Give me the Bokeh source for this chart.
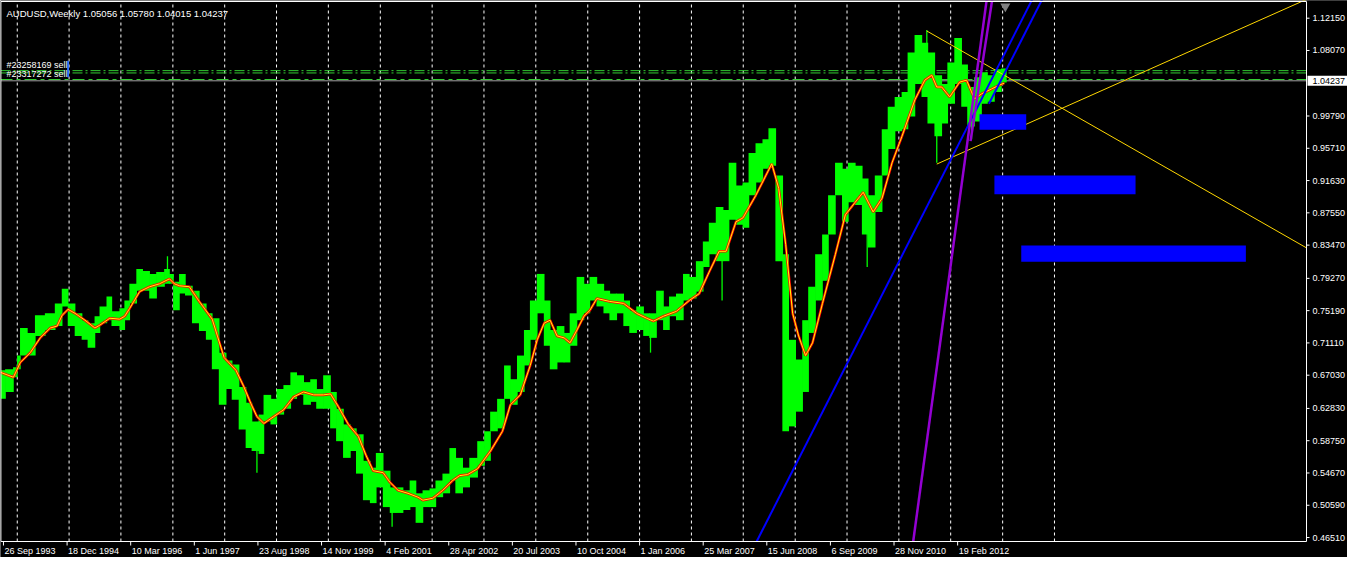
import pandas as pd
from bokeh.plotting import figure
from bokeh.models import Range1d
from bokeh.core.properties import value
from bokeh.embed import file_html
from bokeh.resources import INLINE

START = pd.Timestamp("1993-09-05")   # week 0 of the chart


def weeks(ts):
    return (ts - START).days / 7.0


# ---------------- data (weekly AUDUSD, grouped ranges) ----------------
bar_week = [0, 5, 13, 17, 20, 27, 35, 45, 55, 62,
            68, 75, 82, 88, 95, 100, 107, 112, 120, 125,
            130, 137, 143, 150, 157, 165, 170, 174, 180, 186,
            193, 200, 207, 213, 220, 227, 233, 240, 247, 253,
            260, 265, 272, 278, 285, 292, 298, 305, 312, 318,
            325, 332, 338, 345, 352, 358, 365, 372, 378, 385,
            392, 398, 405, 412, 418, 425, 432, 438, 445, 452,
            458, 465, 472, 480, 487, 493, 500, 507, 513, 520,
            527, 533, 540, 547, 553, 560, 567, 573, 580, 587,
            593, 600, 607, 613, 620, 627, 633, 640, 647, 653,
            660, 667, 673, 680, 687, 693, 700, 707, 713, 720,
            727, 733, 740, 747, 753, 760, 767, 773, 780, 787,
            793, 800, 807, 813, 820, 827, 833, 840, 847, 853,
            860, 867, 873, 880, 887, 893, 900, 907, 913, 920,
            927, 933, 940, 947, 953, 960, 967, 973, 980, 987,
            993, 1000, 1007]
last_week = 1012

bar_high = [0.6764, 0.6777, 0.6802, 0.6951, 0.7299, 0.7237, 0.7460, 0.7485, 0.7610, 0.7796,
            0.7610, 0.7485, 0.7398, 0.7361, 0.7448, 0.7572, 0.7697, 0.7510, 0.7548, 0.7647,
            0.7858, 0.8045, 0.8020, 0.7983, 0.8007, 0.8045, 0.7983, 0.7883, 0.7983, 0.7833,
            0.7771, 0.7610, 0.7485, 0.7423, 0.6988, 0.6889, 0.6839, 0.6553, 0.6354, 0.6118,
            0.6205, 0.6454, 0.6404, 0.6528, 0.6578, 0.6739, 0.6702, 0.6615, 0.6652, 0.6528,
            0.6702, 0.6491, 0.6279, 0.6081, 0.6031, 0.5956, 0.5621, 0.5534, 0.5720, 0.5496,
            0.5285, 0.5285, 0.5248, 0.5372, 0.5210, 0.5248, 0.5272, 0.5372, 0.5459, 0.5782,
            0.5658, 0.5534, 0.5658, 0.5869, 0.5994, 0.6242, 0.6404, 0.6826, 0.6652, 0.6951,
            0.7274, 0.7647, 0.7983, 0.7647, 0.7274, 0.7324, 0.7237, 0.7485, 0.7945, 0.7858,
            0.7945, 0.7858, 0.7771, 0.7734, 0.7734, 0.7647, 0.7523, 0.7572, 0.7485, 0.7485,
            0.7771, 0.7572, 0.7697, 0.7734, 0.7983, 0.7945, 0.8144, 0.8393, 0.8629, 0.8828,
            0.8791, 0.9387, 0.9102, 0.9139, 0.9512, 0.9636, 0.9686, 0.9823, 0.9226, 0.8231,
            0.7150, 0.6901, 0.7398, 0.7821, 0.8231, 0.8480, 0.8977, 0.9387, 0.9313, 0.9387,
            0.9350, 0.9189, 0.8977, 0.9226, 0.9810, 1.0096, 1.0220, 1.0283, 1.0780, 1.1004,
            1.0904, 1.0780, 1.0494, 1.0382, 1.0656, 1.0966, 1.0631, 1.0345, 1.0469, 1.0531,
            1.0494, 1.0569, 1.0578]

bar_low = [0.6404, 0.6491, 0.6677, 0.6777, 0.6951, 0.6951, 0.7199, 0.7274, 0.7324, 0.7572,
           0.7324, 0.7199, 0.7150, 0.7050, 0.7237, 0.7361, 0.7398, 0.7324, 0.7274, 0.7398,
           0.7610, 0.7771, 0.7771, 0.7672, 0.7821, 0.7858, 0.7858, 0.7523, 0.7734, 0.7709,
           0.7361, 0.7262, 0.7150, 0.6777, 0.6329, 0.6528, 0.6391, 0.6018, 0.5782, 0.5745,
           0.5708, 0.6118, 0.6081, 0.6205, 0.6279, 0.6404, 0.6454, 0.6329, 0.6366, 0.6279,
           0.6279, 0.6031, 0.5869, 0.5658, 0.5745, 0.5459, 0.5123, 0.5086, 0.5285, 0.5036,
           0.4962, 0.4962, 0.4999, 0.5036, 0.4837, 0.5036, 0.5036, 0.5161, 0.5210, 0.5372,
           0.5210, 0.5285, 0.5409, 0.5558, 0.5621, 0.5994, 0.6031, 0.6404, 0.6329, 0.6491,
           0.6826, 0.7150, 0.7485, 0.7075, 0.6777, 0.6864, 0.6864, 0.7075, 0.7398, 0.7485,
           0.7647, 0.7572, 0.7485, 0.7398, 0.7485, 0.7324, 0.7237, 0.7274, 0.7199, 0.7175,
           0.7398, 0.7274, 0.7448, 0.7398, 0.7647, 0.7672, 0.7759, 0.8070, 0.8231, 0.8144,
           0.8144, 0.8666, 0.8604, 0.8567, 0.8977, 0.9139, 0.9313, 0.9350, 0.8144, 0.5994,
           0.6056, 0.6242, 0.6491, 0.7237, 0.7647, 0.7896, 0.8480, 0.8977, 0.8642, 0.8890,
           0.8853, 0.8480, 0.8318, 0.8766, 0.9226, 0.9562, 0.9785, 0.9810, 0.9972, 1.0382,
           1.0220, 0.9885, 0.9723, 0.9885, 1.0133, 1.0382, 1.0096, 0.9847, 0.9910, 1.0133,
           1.0158, 1.0283, 1.0402]

# single-week extremes
spike_week = [168, 258, 394, 654, 726, 872, 932, 942, 977]
spike_high = [0.8206, 0.5782, 0.5036, 0.7274, 0.8393, 0.8853, 1.1066, 0.9885, 1.0096]
spike_low = [0.7983, 0.5471, 0.4788, 0.6988, 0.7647, 0.8070, 1.0656, 0.9387, 0.9686]

# moving average
ma_week = [0, 13, 20, 30, 40, 50, 57, 62, 68, 75, 85, 95, 100, 110, 120, 125, 130, 140, 150, 160,
           170, 175, 180, 190, 200, 213, 225, 237, 245, 252, 258, 265, 275, 285, 295, 305, 315, 325,
           332, 340, 350, 360, 368, 375, 385, 392, 400, 410, 420, 425, 435, 445, 455, 462, 470, 480,
           493, 505, 513, 523, 533, 540, 547, 553, 560, 567, 573, 580, 587, 593, 600, 613, 627, 640,
           650, 657, 667, 680, 693, 703, 713, 723, 730, 740, 747, 760, 776, 783, 790, 797, 803, 810,
           817, 827, 840, 850, 860, 868, 878, 887, 897, 907, 920, 930, 937, 942, 947, 955, 965, 972,
           977, 980, 987, 997, 1005, 1010]
ma_price = [0.6739, 0.6677, 0.6864, 0.6988, 0.7175, 0.7299, 0.7324, 0.7460, 0.7535, 0.7485,
            0.7398, 0.7299, 0.7336, 0.7423, 0.7411, 0.7448, 0.7548, 0.7759, 0.7821, 0.7858,
            0.7921, 0.7858, 0.7833, 0.7821, 0.7635, 0.7411, 0.6926, 0.6764, 0.6553, 0.6342,
            0.6180, 0.6093, 0.6180, 0.6267, 0.6429, 0.6491, 0.6454, 0.6454, 0.6466, 0.6304,
            0.6081, 0.5931, 0.5683, 0.5496, 0.5471, 0.5347, 0.5248, 0.5210, 0.5161, 0.5123,
            0.5148, 0.5248, 0.5372, 0.5434, 0.5447, 0.5521, 0.5745, 0.5994, 0.6329, 0.6454,
            0.6826, 0.7150, 0.7361, 0.7398, 0.7199, 0.7175, 0.7112, 0.7274, 0.7448, 0.7523,
            0.7672, 0.7635, 0.7610, 0.7485, 0.7423, 0.7386, 0.7448, 0.7510, 0.7647, 0.7734,
            0.8007, 0.8269, 0.8269, 0.8642, 0.8691, 0.8977, 0.9375, 0.9064, 0.8356, 0.7485,
            0.7199, 0.6951, 0.7112, 0.7610, 0.8231, 0.8729, 0.8890, 0.9015, 0.8766, 0.8940,
            0.9387, 0.9723, 1.0183, 1.0432, 1.0494, 1.0345, 1.0345, 1.0220, 1.0407, 1.0432,
            1.0283, 1.0196, 1.0258, 1.0320, 1.0370, 1.0394]

tick_dates = ["26 Sep 1993", "18 Dec 1994", "10 Mar 1996", "1 Jun 1997", "23 Aug 1998",
              "14 Nov 1999", "4 Feb 2001", "28 Apr 2002", "20 Jul 2003", "10 Oct 2004",
              "1 Jan 2006", "25 Mar 2007", "15 Jun 2008", "6 Sep 2009", "28 Nov 2010",
              "19 Feb 2012"]
grid_years = list(range(1994, 2015))

price_ticks = [1.12150, 1.08070, 0.99790, 0.95710, 0.91630, 0.87550, 0.83470, 0.79270,
               0.75190, 0.71110, 0.67030, 0.62830, 0.58750, 0.54670, 0.50590, 0.46510]
price_labels = ["1.12150", "1.08070", "0.99790", "0.95710", "0.91630", "0.87550", "0.83470",
                "0.79270", "0.75190", "0.71110", "0.67030", "0.62830", "0.58750", "0.54670",
                "0.50590", "0.46510"]

header = "AUDUSD,Weekly  1.05056 1.05780 1.04015 1.04237"
last_close = 1.04237
last_close_label = "1.04237"
order_prices = [1.0552, 1.0523, 1.0440]
order_styles = ["10 3 2 3", "10 3 2 3", "12 4 4 4"]
order_text = ["#23258169 sell", "#23317272 sell"]
order_text_price = [1.0552, 1.0440]

# analysis objects: trend lines (week, price pairs) and zones
yellow1_w, yellow1_p = [932, 1314], [1.1053, 0.8312]
yellow2_w, yellow2_p = [942, 1314], [0.9371, 1.1453]
blue1_w, blue1_p = [760.8, 1042], [0.4601, 1.1550]
blue2_w, blue2_p = [994.5, 1050], [1.0133, 1.1500]
purple1_w, purple1_p = [918.3, 995], [0.4601, 1.1704]
purple2_w, purple2_p = [976, 1000], [0.9661, 1.1631]
zone_left = [985, 1000, 1027]
zone_right = [1032, 1142, 1253]
zone_top = [1.0000, 0.9226, 0.8343]
zone_bottom = [0.9806, 0.8990, 0.8136]
shift_week = [1011]
cursor_w, cursor_p = [67, 69], [1.0677, 1.0469]

# chart window (weeks / prices)
X_END = 1314          # last week visible in the chart area
Y0, Y1 = 0.4601, 1.1426

# ---------------- layout helpers ----------------
W, H = 1347, 557
FRAME_PX_W = 1306     # chart area width in px
FRAME_TOP, FRAME_BOT = 1, 541
WPX = X_END / FRAME_PX_W
PPX = (Y1 - Y0) / (FRAME_BOT - FRAME_TOP)

ends = bar_week[1:] + [last_week]
bar_x = [(a + b) / 2 for a, b in zip(bar_week, ends)]
bar_w = [(b - a) + 0.7 for a, b in zip(bar_week, ends)]
tick_weeks = [weeks(pd.to_datetime(d, format="%d %b %Y")) for d in tick_dates]
grid_weeks = [weeks(pd.Timestamp(f"{y}-01-01")) for y in grid_years]

FONT = value("Liberation Sans")

p = figure(width=W, height=H,
           x_range=Range1d(0, W * WPX),
           y_range=Range1d(Y0 - (H - FRAME_BOT) * PPX, Y1 + FRAME_TOP * PPX),
           x_axis_type=None, y_axis_type=None, toolbar_location=None,
           output_backend="svg", background_fill_color="black", border_fill_color="black",
           min_border=0)
p.xgrid.visible = False
p.ygrid.visible = False
p.outline_line_color = None

# yearly dashed grid
p.segment(x0=grid_weeks, x1=grid_weeks, y0=[Y0] * len(grid_weeks), y1=[Y1] * len(grid_weeks),
          line_color="white", line_dash="3 3", line_width=1)

# order lines and current price line
for pr, dash in zip(order_prices, order_styles):
    p.segment(x0=[0], x1=[X_END], y0=[pr], y1=[pr], line_color="#32CD32",
              line_dash=dash, line_width=1)
p.segment(x0=[0], x1=[X_END], y0=[last_close], y1=[last_close], line_color="#A0A0A0",
          line_width=1)

# price bars
p.vbar(x=bar_x, width=bar_w, top=bar_high, bottom=bar_low,
       fill_color="#00FF00", line_color=None)
p.vbar(x=spike_week, width=1.3, top=spike_high, bottom=spike_low,
       fill_color="#00FF00", line_color=None)

# moving average (red with yellow)
p.line(ma_week, ma_price, line_color="#FF0000", line_width=2.5)
p.line(ma_week, ma_price, line_color="#FFFF00", line_width=1)

# trend lines
p.line(yellow1_w, yellow1_p, line_color="#FFD700", line_width=1)
p.line(yellow2_w, yellow2_p, line_color="#FFD700", line_width=1)
p.line(blue1_w, blue1_p, line_color="#0000FF", line_width=2)
p.line(blue2_w, blue2_p, line_color="#0000FF", line_width=2)
p.line(purple1_w, purple1_p, line_color="#9400D3", line_width=2.5)
p.line(purple2_w, purple2_p, line_color="#9400D3", line_width=2.5)

# zones
p.quad(left=zone_left, right=zone_right, top=zone_top, bottom=zone_bottom,
       fill_color="#0000FF", line_color=None)

# black background for the scales (covers overshoot of lines)
p.quad(left=[X_END], right=[W * WPX], top=[Y1 + 2 * PPX], bottom=[Y0 - (H - FRAME_BOT) * PPX],
       fill_color="black", line_color=None)
p.quad(left=[0], right=[W * WPX], top=[Y0], bottom=[Y0 - (H - FRAME_BOT) * PPX],
       fill_color="black", line_color=None)

# chart-shift marker
p.scatter(shift_week, [Y1 - 5 * PPX], marker="inverted_triangle", size=10,
          fill_color="#808080", line_color=None)

# order labels + cursor
p.text(x=[2 + 4 * WPX] * 2, y=[v + 1 * PPX for v in order_text_price], text=order_text,
       text_color="white", text_font=FONT, text_font_size="9px", text_baseline="bottom",
       text_align="left")
p.quad(left=[cursor_w[0]], right=[cursor_w[1]], top=[cursor_p[0]], bottom=[cursor_p[1]],
       fill_color="#3070FF", line_color=None)

# header
p.text(x=[6 * WPX], y=[Y1 - 6 * PPX], text=[header], text_color="white", text_font=FONT,
       text_font_size="9.5px", text_baseline="top", text_align="left")

# chart frame
p.line([0.4 * WPX, 0.4 * WPX, X_END, X_END, 0.4 * WPX], [Y0, Y1, Y1, Y0, Y0],
       line_color="white", line_width=1)

# price scale: ticks, labels, current price box
p.segment(x0=[X_END] * len(price_ticks), x1=[X_END + 3 * WPX] * len(price_ticks),
          y0=price_ticks, y1=price_ticks, line_color="white", line_width=1)
p.text(x=[X_END + 6 * WPX] * len(price_ticks), y=price_ticks, text=price_labels,
       text_color="white", text_font=FONT, text_font_size="9px", text_baseline="middle",
       text_align="left")
p.quad(left=[X_END + 1 * WPX], right=[X_END + 44 * WPX], top=[last_close + 5 * PPX],
       bottom=[last_close - 5 * PPX], fill_color="white", line_color=None)
p.text(x=[X_END + 6 * WPX], y=[last_close], text=[last_close_label], text_color="black",
       text_font=FONT, text_font_size="9px", text_baseline="middle", text_align="left")

# time scale: ticks and labels
p.segment(x0=tick_weeks, x1=tick_weeks, y0=[Y0] * len(tick_weeks),
          y1=[Y0 - 4 * PPX] * len(tick_weeks), line_color="white", line_width=1)
p.text(x=[w + 1 * WPX for w in tick_weeks], y=[Y0 - 4 * PPX] * len(tick_weeks), text=tick_dates,
       text_color="white", text_font=FONT, text_font_size="9px", text_baseline="top",
       text_align="left")

open("out.html", "w").write(file_html(p, INLINE))
